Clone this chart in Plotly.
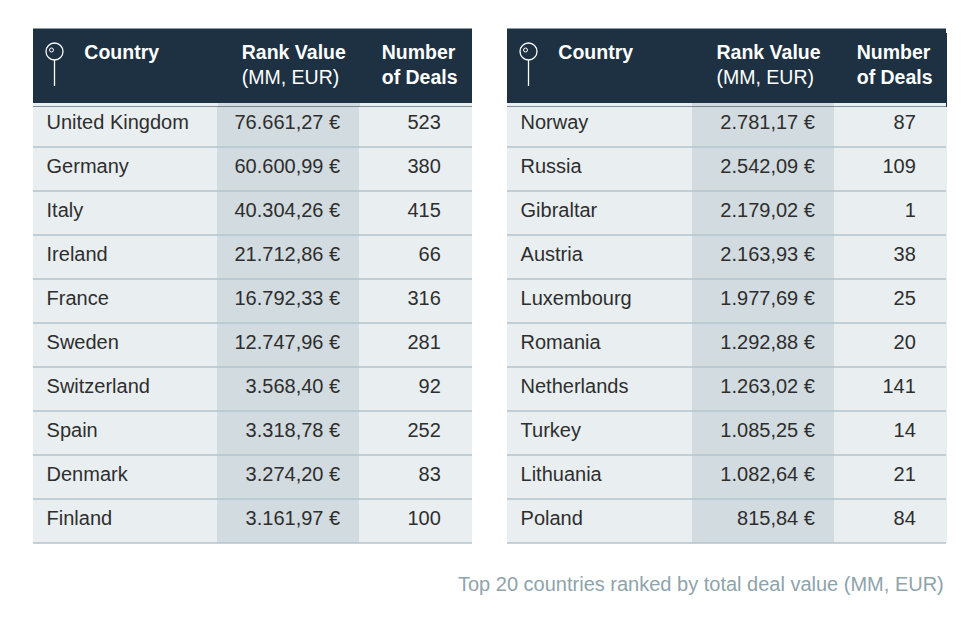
import plotly.graph_objects as go

# left table
paises_esq = ["United Kingdom", "Germany", "Italy", "Ireland", "France",
              "Sweden", "Switzerland", "Spain", "Denmark", "Finland"]
valor_esq = [76661.27, 60600.99, 40304.26, 21712.86, 16792.33,
             12747.96, 3568.40, 3318.78, 3274.20, 3161.97]
deals_esq = [523, 380, 415, 66, 316, 281, 92, 252, 83, 100]

# right table
paises_dir = ["Norway", "Russia", "Gibraltar", "Austria", "Luxembourg",
              "Romania", "Netherlands", "Turkey", "Lithuania", "Poland"]
valor_dir = [2781.17, 2542.09, 2179.02, 2163.93, 1977.69,
             1292.88, 1263.02, 1085.25, 1082.64, 815.84]
deals_dir = [87, 109, 1, 38, 25, 20, 141, 14, 21, 84]

titulos = ["Country", "Rank Value", "(MM, EUR)", "Number", "of Deals"]
legenda = "Top 20 countries ranked by total deal value (MM, EUR)"

# a pagina tem margem de 8px no body
OFF = 8
W, H = 971 - OFF, 621 - OFF
TOPO, ALT_CAB, ALT_LIN = 29, 74, 44
# o plotly desenha o texto no topo da celula; a tabela desce um pouco
# e as faixas que sobram sao cobertas com retangulos
DESL = 4
DESL_LIN = 3
LARG = [185, 142, 112]
FONTE = "Liberation Sans"
AZUL = "#1d3142"
CLARO = "#e9eef1"
ESCURO = "#d2dbe0"
SEP = "#b3c3cb"
NB = "\u00a0"


def px(x):
    return (x - OFF) / W


def py(y):
    return 1 - (y - OFF) / H


def sem_quebra(txt):
    # espacos viram nbsp para a tabela nao quebrar a linha
    return txt.replace(" ", NB)


def eur(v):
    s = f"{v:,.2f}".replace(",", "X").replace(".", ",").replace("X", ".")
    return s + " €" + NB * 2


cabecalho = [
    NB * 8 + f"<b>{titulos[0]}</b>",
    f"<b>{sem_quebra(titulos[1])}</b>" + NB + "<br>" + sem_quebra(titulos[2]) + NB,
    f"<b>{titulos[3]}</b>" + NB + "<br>" + f"<b>{sem_quebra(titulos[4])}</b>" + NB,
]

fig = go.Figure()
shapes = []


def retangulo(xa, xb, ya, yb, cor):
    shapes.append(dict(type="rect", xref="paper", yref="paper",
                       x0=px(xa), x1=px(xb), y0=py(yb), y1=py(ya),
                       line=dict(width=0), fillcolor=cor, layer="above"))


def add_tabela(x0, x1, paises, valores, deals):
    cores = [CLARO, ESCURO, CLARO]
    col_pais = [NB + sem_quebra(p) for p in paises]
    col_valor = [sem_quebra(eur(v)) for v in valores]
    col_deals = [f"{d}" + NB * 4 for d in deals]
    topo_tab = TOPO + DESL
    cab_tab = ALT_CAB - DESL + DESL_LIN
    fig.add_trace(go.Table(
        domain=dict(x=[px(x0), px(x1)], y=[0, py(topo_tab)]),
        columnwidth=LARG,
        header=dict(
            values=cabecalho,
            align=["left", "right", "right"],
            fill_color=AZUL,
            line=dict(color=AZUL, width=1),
            font=dict(family=FONTE, size=19.5, color="white"),
            height=cab_tab,
        ),
        cells=dict(
            values=[col_pais, col_valor, col_deals],
            align=["left", "right", "right"],
            fill_color=cores,
            line=dict(color=cores, width=1),
            font=dict(family=FONTE, size=20, color="#2e2e2e"),
            height=ALT_LIN,
        ),
    ))
    fim_cab = TOPO + ALT_CAB
    fim_tab = fim_cab + len(paises) * ALT_LIN
    # faixa escura no topo do cabecalho
    retangulo(x0, x1, TOPO - 0.5, topo_tab + 0.5, AZUL)
    # faixa clara logo abaixo do cabecalho, por coluna
    esc = (x1 - x0) / sum(LARG)
    xa = x0
    for w, cor in zip(LARG, cores):
        xb = xa + w * esc
        retangulo(xa, xb, fim_cab, fim_cab + DESL_LIN + 0.5, cor)
        xa = xb
    # sobra da ultima linha
    retangulo(x0 - 1, x1 + 1, fim_tab, fim_tab + DESL_LIN + 1, "white")
    # separadores horizontais entre as linhas
    for i in range(1, len(paises) + 1):
        y = py(fim_cab + i * ALT_LIN)
        shapes.append(dict(type="line", xref="paper", yref="paper",
                           x0=px(x0), x1=px(x1), y0=y, y1=y,
                           line=dict(color=SEP, width=1.5), layer="above"))
    # icone de alfinete no cabecalho
    cx = x0 + 21.5
    shapes.append(dict(type="circle", xref="paper", yref="paper",
                       x0=px(cx - 8.5), x1=px(cx + 8.5),
                       y0=py(60), y1=py(43),
                       line=dict(color="white", width=1.3), layer="above"))
    shapes.append(dict(type="circle", xref="paper", yref="paper",
                       x0=px(cx - 5), x1=px(cx - 1),
                       y0=py(52), y1=py(48),
                       line=dict(color="white", width=1), layer="above"))
    shapes.append(dict(type="line", xref="paper", yref="paper",
                       x0=px(cx), x1=px(cx), y0=py(86), y1=py(60),
                       line=dict(color="white", width=1.3), layer="above"))


add_tabela(33, 472, paises_esq, valor_esq, deals_esq)
add_tabela(507, 946, paises_dir, valor_dir, deals_dir)

fig.add_annotation(
    text=legenda, xref="paper", yref="paper",
    x=px(946), y=py(584), xanchor="right", yanchor="middle",
    showarrow=False, font=dict(family=FONTE, size=20, color="#8ea3ab"),
)

fig.update_layout(
    width=W, height=H,
    margin=dict(l=0, r=0, t=0, b=0),
    paper_bgcolor="white",
    shapes=shapes,
)

fig.write_html("out.html")
